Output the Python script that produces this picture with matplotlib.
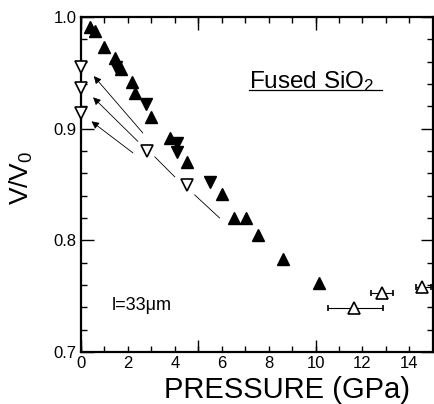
import matplotlib
matplotlib.use("Agg")
import matplotlib.pyplot as plt
from matplotlib.ticker import FixedLocator, FuncFormatter

plt.rcParams['font.family'] = ['Liberation Sans', 'DejaVu Sans']
plt.rcParams['mathtext.fontset'] = 'custom'
plt.rcParams['mathtext.rm'] = 'Liberation Sans'
plt.rcParams['mathtext.it'] = 'Liberation Sans'

# filled triangles (loading)
up_p = [0.38, 0.62, 1.00, 1.45, 1.70, 2.17, 2.30, 2.98, 3.79, 4.51, 6.00, 6.51, 7.02, 7.53, 8.60, 10.13]
up_v = [0.991, 0.987, 0.973, 0.963, 0.953, 0.942, 0.932, 0.910, 0.892, 0.870, 0.841, 0.820, 0.820, 0.805, 0.783, 0.762]
down_p = [1.50, 2.77, 4.09, 4.09, 5.49]
down_v = [0.955, 0.922, 0.887, 0.879, 0.852]

# open triangles
zero_p = [0.0, 0.0, 0.0]
zero_v = [0.9555, 0.9362, 0.9138]
zero_err = [0.008, 0.008, 0.008]
odown_p = [2.81, 4.51]
odown_v = [0.880, 0.8496]
oup_p = [11.62, 12.85, 14.55]
oup_v = [0.7395, 0.7529, 0.7583]
oup_xlo = [1.07, 0.47, 0.25]
oup_xhi = [1.27, 0.47, 0.39]

# unloading arrows (tail -> head)
arr_tail = [(2.64, 0.8961), (2.43, 0.8885), (2.22, 0.8782)]
arr_head = [(0.55, 0.9470), (0.52, 0.9280), (0.45, 0.9065)]

# thin guide line through open triangles
seg1_p = [3.15, 4.00]
seg1_v = [0.8747, 0.8568]
seg2_p = [4.85, 5.91]
seg2_v = [0.8406, 0.8200]

fig = plt.figure(figsize=(4.35, 4.04), dpi=100)
ax = fig.add_axes([0.186, 0.129, 0.809, 0.829])

ax.plot(seg1_p, seg1_v, color='k', lw=0.6)
ax.plot(seg2_p, seg2_v, color='k', lw=0.6)

for t, h in zip(arr_tail, arr_head):
    ax.annotate('', xy=h, xytext=t,
                arrowprops=dict(arrowstyle='-|>', lw=0.6, color='k', mutation_scale=11,
                                shrinkA=0, shrinkB=0))

ax.plot(up_p, up_v, '^', color='k', ms=9, ls='none')
ax.plot(down_p, down_v, 'v', color='k', ms=9, ls='none')

ax.errorbar(zero_p, zero_v, yerr=zero_err, fmt='v', ms=8.5, mfc='white', mec='k', mew=1.2,
            ecolor='k', elinewidth=0.8, capsize=0, clip_on=False, zorder=5)
ax.plot(odown_p, odown_v, 'v', ms=8.5, mfc='white', mec='k', mew=1.2, ls='none')
ax.errorbar(oup_p, oup_v, xerr=[oup_xlo, oup_xhi], fmt='^', ms=8.5, mfc='white', mec='k',
            mew=1.2, ecolor='k', elinewidth=0.8, capsize=2.5, capthick=0.8, ls='none',
            clip_on=False, zorder=5)

ax.set_xlim(0, 15)
ax.set_ylim(0.7, 1.0)

# x ticks: long at 0,5,10,15, short every 1, labels on even
ax.xaxis.set_major_locator(FixedLocator([0, 5, 10, 15]))
ax.xaxis.set_major_formatter(FuncFormatter(lambda v, p: ''))
ax.xaxis.set_minor_locator(FixedLocator(list(range(0, 16))))
ax.xaxis.set_minor_formatter(FuncFormatter(lambda v, p: '%d' % v if int(v) % 2 == 0 and v < 15 else ''))
ax.xaxis.remove_overlapping_locs = False

ax.set_yticks([0.7, 0.8, 0.9, 1.0])
ax.set_yticklabels(['0.7', '0.8', '0.9', '1.0'])
ax.set_yticks([0.7 + 0.02 * i for i in range(16)], minor=True)

ax.tick_params(which='both', direction='in', top=True, right=True, labelsize=12, width=1)
ax.tick_params(which='major', length=9, pad=3)
ax.tick_params(which='minor', length=4, pad=3)

for s in ax.spines.values():
    s.set_linewidth(1.6)

ax.set_xlabel('PRESSURE (GPa)', fontsize=21)
ax.xaxis.set_label_coords(0.585, -0.113)
ax.xaxis.label.set_va('center')
ax.set_ylabel('V/V$_0$', fontsize=19)
ax.yaxis.set_label_coords(-0.168, 0.52)
ax.yaxis.label.set_va('center')

ax.text(7.15, 0.9364, 'Fused SiO$_2$', fontsize=17.5, ha='left', va='baseline')
ax.plot([7.15, 12.85], [0.9345, 0.9345], color='k', lw=0.9)
ax.text(1.32, 0.7377, 'l=33μm', fontsize=13, ha='left', va='baseline')

fig.savefig('out.png', dpi=100)
